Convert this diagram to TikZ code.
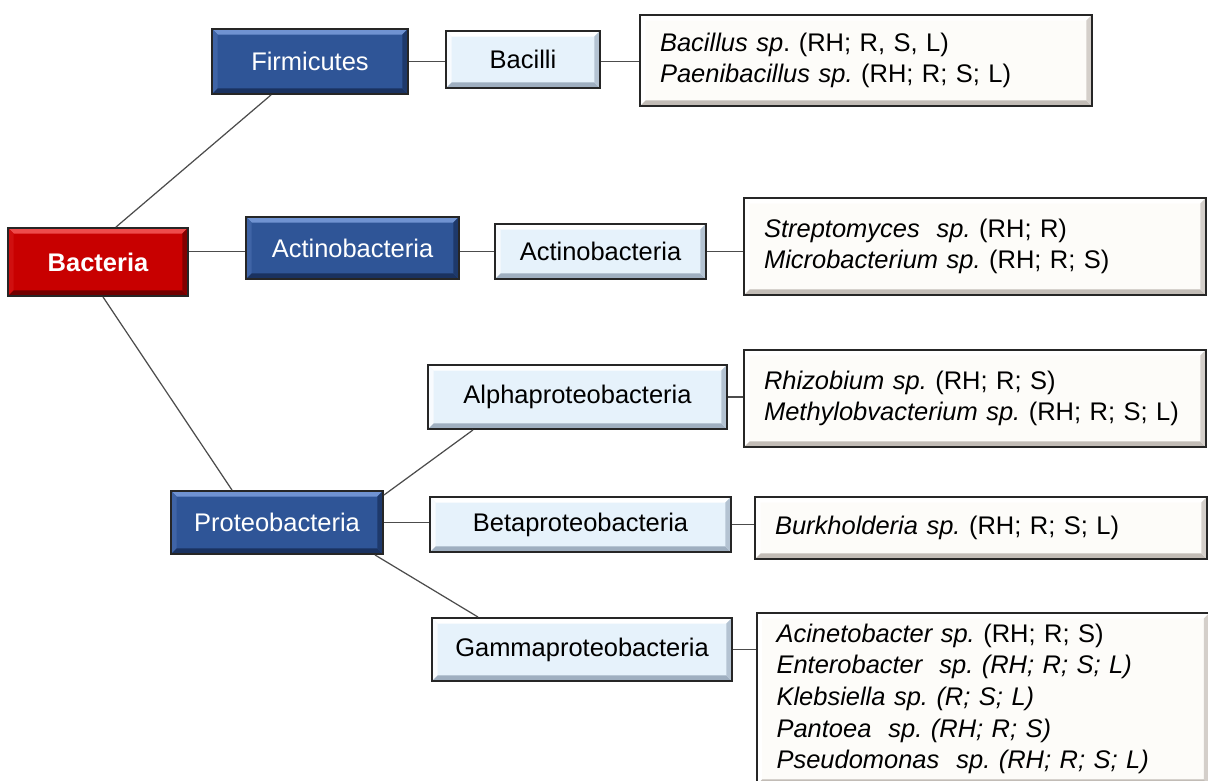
\documentclass[tikz,border=0pt]{standalone}
\usepackage{fontspec}
\setmainfont{Liberation Sans}
\usepackage{tikz}
\usetikzlibrary{calc}
\frenchspacing
\definecolor{phylumblue}{HTML}{2F5597}
\definecolor{phylumlight}{HTML}{7093D2}
\definecolor{phylumdark}{HTML}{1A3260}
\definecolor{rootred}{HTML}{C80000}
\definecolor{rootlight}{HTML}{EE4B4B}
\definecolor{rootdark}{HTML}{730000}
\definecolor{classfill}{HTML}{E6F2FB}
\definecolor{classdark}{HTML}{9FAFC0}
\definecolor{speciesfill}{HTML}{FDFCF9}
\definecolor{speciesdark}{HTML}{C2BCB6}
\newcommand{\bevw}{1.1mm}

\tikzset{
  bevel/.style n args={4}{path picture={
    \fill[#1] (path picture bounding box.north west) -- (path picture bounding box.north east)
      -- ([shift={(-\bevw,-\bevw)}]path picture bounding box.north east)
      -- ([shift={(\bevw,-\bevw)}]path picture bounding box.north west) -- cycle;
    \fill[#2] (path picture bounding box.north west) -- (path picture bounding box.south west)
      -- ([shift={(\bevw,\bevw)}]path picture bounding box.south west)
      -- ([shift={(\bevw,-\bevw)}]path picture bounding box.north west) -- cycle;
    \fill[#3] (path picture bounding box.south west) -- (path picture bounding box.south east)
      -- ([shift={(-\bevw,\bevw)}]path picture bounding box.south east)
      -- ([shift={(\bevw,\bevw)}]path picture bounding box.south west) -- cycle;
    \fill[#4] (path picture bounding box.north east) -- (path picture bounding box.south east)
      -- ([shift={(-\bevw,\bevw)}]path picture bounding box.south east)
      -- ([shift={(-\bevw,-\bevw)}]path picture bounding box.north east) -- cycle;
  }}
}

\begin{document}
\begin{tikzpicture}[
  x=0.02cm, y=-0.02cm,
  font=\fontsize{14.5}{18}\selectfont,
  box/.style={
    draw=black!85,
    line width=1.1pt,
    align=center,
    inner sep=2pt
  },
  root/.style={
    box,
    fill=rootred,
    text=white,
    font=\fontsize{14.5}{18}\selectfont\bfseries,
    bevel={rootlight}{rootred!80!rootlight}{rootdark}{rootdark!80!rootred}
  },
  phylum/.style={
    box,
    fill=phylumblue,
    text=white,
    bevel={phylumlight}{phylumblue!75!phylumlight}{phylumdark}{phylumdark!80!phylumblue}
  },
  class/.style={
    box,
    fill=classfill,
    bevel={white}{white!70!classfill}{classdark}{classdark!70!classfill}
  },
  species/.style={
    box,
    fill=speciesfill,
    align=left,
    inner xsep=0.4cm,
    bevel={white}{white}{speciesdark}{speciesdark!70!speciesfill}
  },
  link/.style={draw=black!70, line width=0.7pt}
]
\useasboundingbox (0,0) rectangle (1208,781);

% 1. Root and phyla
\node[root,minimum width=3.6cm,minimum height=1.36cm] (bact) at (98,262) {Bacteria};
\node[phylum,minimum width=3.92cm,minimum height=1.3cm] (firm) at (310,61.5) {Firmicutes};
\node[phylum,minimum width=4.26cm,minimum height=1.24cm] (actp) at (352.5,248) {Actinobacteria};
\node[phylum,minimum width=4.24cm,minimum height=1.26cm] (prot) at (277,522.5) {Proteobacteria};

% 2. Classes
\node[class,minimum width=3.08cm,minimum height=1.14cm] (baci) at (523,59.5) {Bacilli};
\node[class,minimum width=4.22cm,minimum height=1.1cm] (actc) at (600.5,251.5) {Actinobacteria};
\node[class,minimum width=5.98cm,minimum height=1.28cm] (alpha) at (577.5,397) {Alphaproteobacteria};
\node[class,minimum width=6.02cm,minimum height=1.1cm] (beta) at (580.5,524.5) {Betaproteobacteria};
\node[class,minimum width=6.0cm,minimum height=1.26cm] (gamma) at (582,649.5) {Gammaproteobacteria};

% 3. Genera
\node[species,text width=8.24cm,minimum height=1.82cm] (bacisp) at (866,60.5)
  {{\itshape Bacillus sp}. (RH; R, S, L)\\{\itshape Paenibacillus sp.} (RH; R; S; L)};
\node[species,text width=8.44cm,minimum height=1.94cm] (actsp) at (975,246.5)
  {{\itshape Streptomyces\ \ sp.} (RH; R)\\{\itshape Microbacterium sp.} (RH; R; S)};
\node[species,text width=8.44cm,minimum height=1.94cm] (alphasp) at (975,398.5)
  {{\itshape Rhizobium sp.} (RH; R; S)\\{\itshape Methylobvacterium sp.} (RH; R; S; L)};
\node[species,text width=8.24cm,minimum height=1.24cm] (betasp) at (981,528)
  {{\itshape Burkholderia sp.} (RH; R; S; L)};
\node[species,text width=8.26cm,minimum height=3.44cm] (gammasp) at (983,699)
  {{\itshape Acinetobacter sp.} (RH; R; S)\\
   {\itshape Enterobacter\ \ sp. (RH; R; S; L)}\\
   {\itshape Klebsiella sp. (R; S; L)}\\
   {\itshape Pantoea\ \ sp. (RH; R; S)}\\
   {\itshape Pseudomonas\ \ sp. (RH; R; S; L)}};

% Connections
\draw[link] ([xshift=0.36cm]bact.north) -- ([xshift=-0.78cm]firm.south);
\draw[link] (bact.east |- actc) -- (actp.west |- actc);
\draw[link] ([xshift=0.1cm]bact.south) -- ([xshift=-0.9cm]prot.north);

\draw[link] (firm.east) -- (baci.west |- firm.east);
\draw[link] (baci.east |- firm.east) -- (bacisp.west |- firm.east);

\draw[link] (actp.east |- actc) -- (actc.west);
\draw[link] (actc.east) -- (actsp.west |- actc.east);

\draw[link] ([yshift=-0.1cm]prot.north east) -- ([xshift=-2.09cm]alpha.south);
\draw[link] (prot.east) -- (beta.west |- prot.east);
\draw[link] ([xshift=1.96cm]prot.south) -- ([xshift=-2.08cm]gamma.north);

\draw[link] (alpha.east) -- (alphasp.west |- alpha.east);
\draw[link] (beta.east) -- (betasp.west |- beta.east);
\draw[link] (gamma.east) -- (gammasp.west |- gamma.east);

\end{tikzpicture}
\end{document}
